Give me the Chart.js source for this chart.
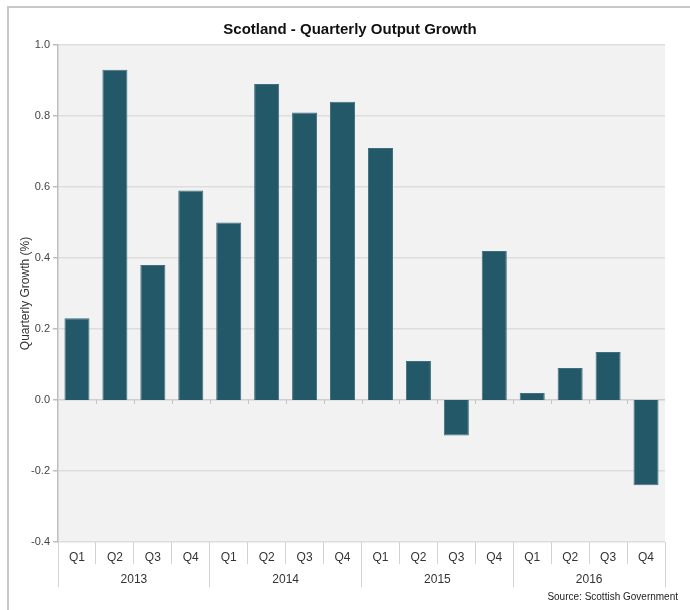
<!DOCTYPE html>
<html>
<head>
<meta charset="utf-8">
<script src="https://cdn.jsdelivr.net/npm/chart.js@4"></script>
<style>
  html, body { margin: 0; padding: 0; background: #ffffff; }
  #wrap { width: 690px; height: 610px; }
</style>
</head>
<body>
<div id="wrap"><canvas id="c" width="690" height="610"></canvas></div>
<script>
const quarters = ['Q1','Q2','Q3','Q4','Q1','Q2','Q3','Q4','Q1','Q2','Q3','Q4','Q1','Q2','Q3','Q4'];
const years = ['2013','2014','2015','2016'];
const growth = [0.23, 0.93, 0.38, 0.59, 0.50, 0.89, 0.81, 0.84, 0.71, 0.11, -0.10, 0.42, 0.02, 0.09, 0.135, -0.24];
const yMin = -0.4, yMax = 1.0, yStep = 0.2;
const titleText = 'Scotland - Quarterly Output Growth';
const yTitle = 'Quarterly Growth (%)';
const sourceText = 'Source: Scottish Government';

const NARROW = "'Liberation Sans Narrow', 'Arial Narrow', 'Liberation Sans', Arial, sans-serif";
const SANS = "'Liberation Sans', Arial, sans-serif";

const decor = {
  id: 'decor',
  beforeDraw(chart) {
    const ctx = chart.ctx, a = chart.chartArea;
    ctx.save();
    ctx.fillStyle = '#ffffff';
    ctx.fillRect(0, 0, chart.width, chart.height);
    ctx.fillStyle = '#f2f2f2';
    ctx.fillRect(a.left, a.top, a.right - a.left, a.bottom - a.top);
    ctx.strokeStyle = '#c9c9c9';
    ctx.lineWidth = 2;
    ctx.beginPath();
    ctx.moveTo(8, chart.height);
    ctx.lineTo(8, 7);
    ctx.lineTo(chart.width, 7);
    ctx.stroke();
    ctx.restore();
  },
  beforeDatasetsDraw(chart) {
    const ctx = chart.ctx, xs = chart.scales.x, ys = chart.scales.y;
    const y0 = ys.getPixelForValue(0);
    ctx.save();
    ctx.strokeStyle = '#c4c4c4';
    ctx.lineWidth = 1;
    ctx.beginPath();
    for (let i = 1; i < quarters.length; i++) {
      const bx = Math.round((xs.getPixelForValue(i - 1) + xs.getPixelForValue(i)) / 2) + 0.5;
      ctx.moveTo(bx, y0);
      ctx.lineTo(bx, y0 + 4);
    }
    ctx.stroke();
    ctx.restore();
  }
};

new Chart(document.getElementById('c'), {
  type: 'bar',
  data: {
    labels: quarters,
    datasets: [{
      data: growth,
      backgroundColor: '#225868',
      borderColor: '#3f6f7c',
      borderWidth: 1,
      barPercentage: 0.66,
      categoryPercentage: 1.0,
      xAxisID: 'x',
      yAxisID: 'y'
    }]
  },
  options: {
    responsive: false,
    animation: false,
    layout: { padding: { left: 22, right: 12, top: 0, bottom: 0 } },
    plugins: {
      legend: { display: false },
      tooltip: { enabled: false },
      title: {
        display: true,
        text: titleText,
        color: '#111111',
        font: { family: NARROW, size: 15, weight: 'bold' },
        padding: { top: 21, bottom: 6 }
      },
      subtitle: {
        display: true,
        text: sourceText,
        position: 'bottom',
        align: 'end',
        color: '#222222',
        font: { family: NARROW, size: 10 },
        padding: { top: 4, bottom: 7 }
      }
    },
    scales: {
      y: {
        min: yMin,
        max: yMax,
        afterFit(s) { s.width = 36; },
        ticks: {
          stepSize: yStep,
          color: '#444444',
          font: { family: NARROW, size: 11 },
          padding: 3,
          callback: v => {
            const r = Math.round(Number(v) * 10) / 10;
            return (Math.abs(r) < 1e-9 ? 0 : r).toFixed(1);
          }
        },
        grid: {
          color: ctx => (ctx.tick && Math.abs(ctx.tick.value) < 1e-9) ? '#cfcfcf' : '#dddddd',
          lineWidth: 1.5,
          tickLength: 5,
          tickColor: '#bdbdbd'
        },
        border: { display: true, color: '#bdbdbd', width: 1.5 },
        title: {
          display: true,
          text: yTitle,
          color: '#333333',
          font: { family: SANS, size: 12 },
          padding: { top: -4, bottom: 0 }
        }
      },
      yR: {
        position: 'right',
        display: true,
        min: yMin, max: yMax,
        afterFit(s) { s.width = 13; },
        ticks: { display: false },
        grid: { display: false, drawTicks: false },
        border: { display: false }
      },
      x: {
        type: 'category',
        position: 'bottom',
        weight: 0,
        offset: true,
        afterFit(s) { s.height = 22; },
        ticks: {
          autoSkip: false, maxRotation: 0, minRotation: 0,
          color: '#333333',
          font: { family: NARROW, size: 12 },
          padding: -14
        },
        grid: {
          offset: true,
          drawOnChartArea: false,
          drawTicks: true,
          tickLength: 22,
          color: '#d2d2d2',
          lineWidth: 1
        },
        border: { display: false }
      },
      x2: {
        type: 'category',
        labels: years,
        position: 'bottom',
        weight: 1,
        offset: true,
        afterFit(s) { s.height = 23; },
        ticks: {
          autoSkip: false, maxRotation: 0, minRotation: 0,
          color: '#333333',
          font: { family: NARROW, size: 12 },
          padding: -15
        },
        grid: {
          offset: true,
          drawOnChartArea: false,
          drawTicks: true,
          tickLength: 23,
          color: '#d2d2d2',
          lineWidth: 1
        },
        border: { display: false }
      }
    }
  },
  plugins: [decor]
});
</script>
</body>
</html>
